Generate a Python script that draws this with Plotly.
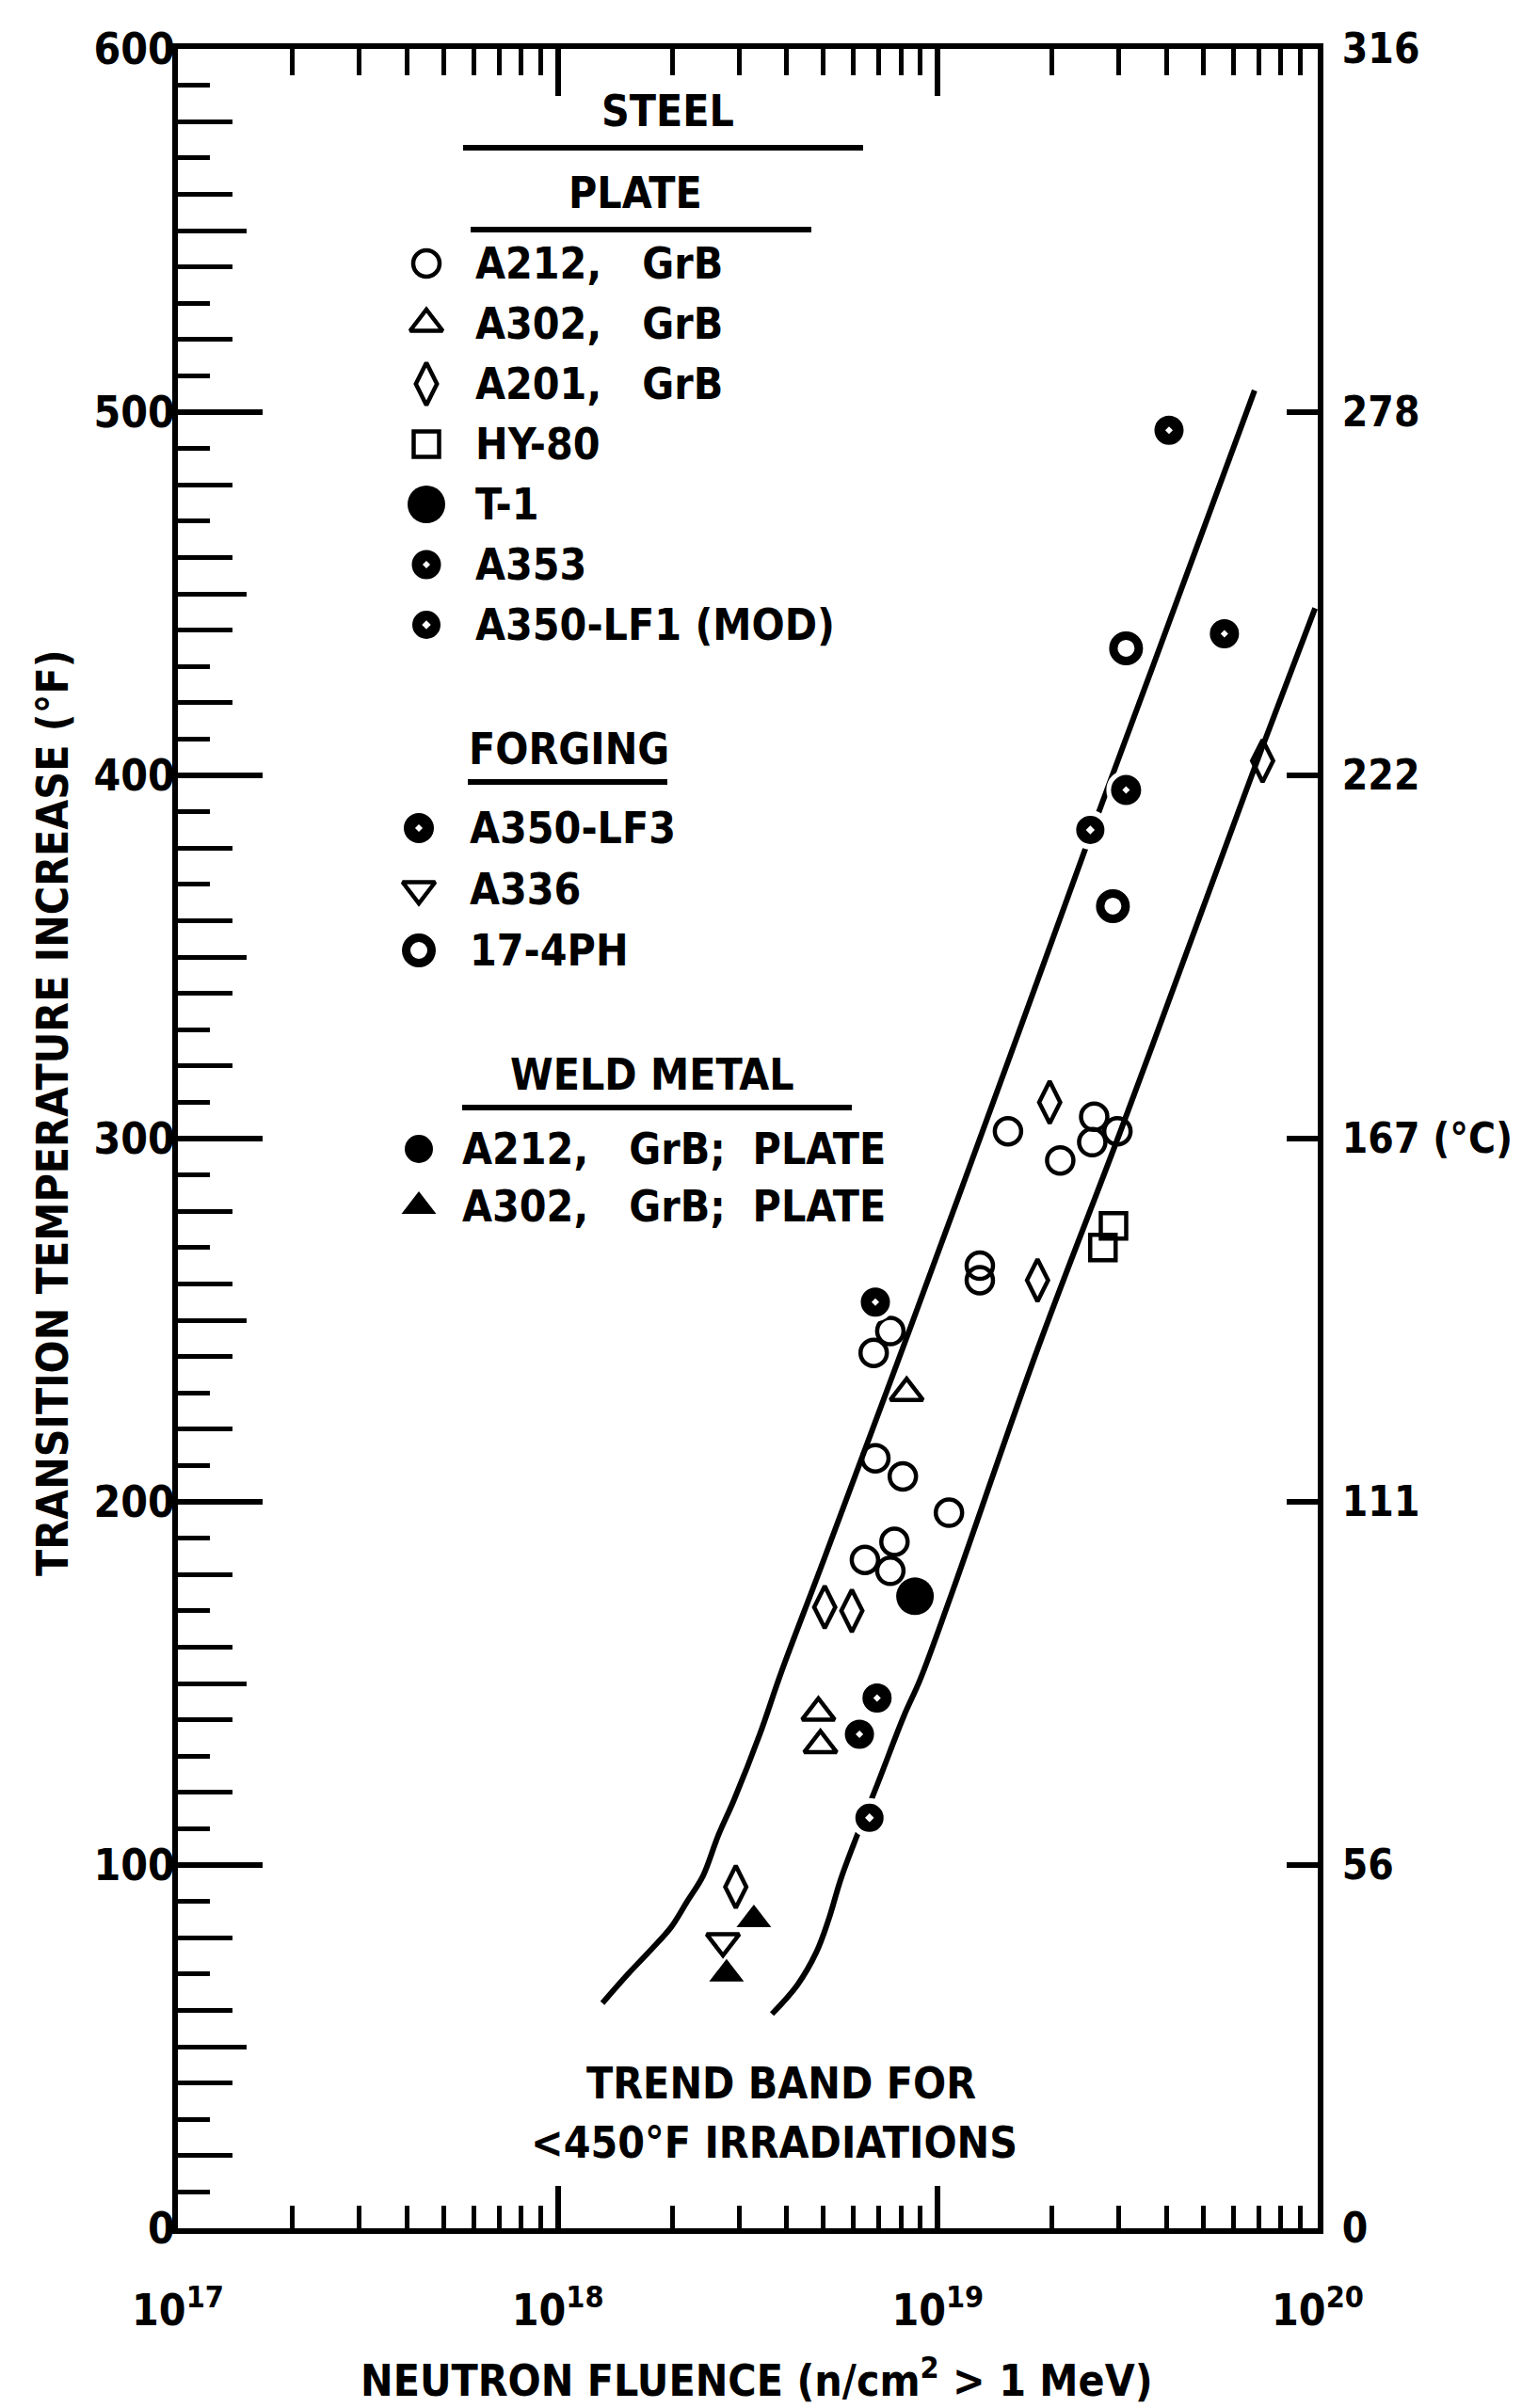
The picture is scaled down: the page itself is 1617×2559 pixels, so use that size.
import plotly.graph_objects as go

# ---------------- data ----------------
# Plate
A212_X = [1.53e19, 2.58e19, 2.97e19, 2.55e19, 2.10e19, 1.29e19, 1.29e19, 7.5e18,
          6.78e18, 6.85e18, 8.09e18, 1.07e19, 7.69e18, 6.43e18, 7.5e18]
A212_Y = [302, 306, 302, 299, 294, 265, 261, 247, 241, 212, 207, 197, 189, 184, 181]
A302_X = [8.28e18, 4.85e18, 4.91e18]
A302_Y = [230, 142, 133]
A201_X = [7.16e19, 1.97e19, 1.83e19, 5.04e18, 5.94e18, 2.94e18]
A201_Y = [404, 310, 261, 171, 170, 94]
HY80_X = [2.90e19, 2.72e19]
HY80_Y = [276, 270]
T1_X = [8.71e18]
T1_Y = [174]
A353_X = [4.06e19, 5.68e19, 6.85e18, 6.92e18, 6.22e18]
A353_Y = [495, 439, 255, 146, 136]
A350LF1_X = [6.61e18, 2.52e19]
A350LF1_Y = [113, 385]
# Forging
A350LF3_X = [3.13e19]
A350LF3_Y = [396]
A336_X = [2.72e18]
A336_Y = [79]
PH17_X = [3.13e19, 2.89e19]
PH17_Y = [435, 364]
# Weld metal
WA302_X = [3.28e18, 2.78e18]
WA302_Y = [85, 70]

# Trend band curves
UPPER_X = [1.31e18, 1.53e18, 1.77e18, 1.99e18, 2.19e18, 2.41e18, 2.64e18, 2.91e18,
           3.40e18, 3.87e18, 5.01e18, 8.47e18, 1.63e19, 2.57e19, 3.68e19, 6.82e19]
UPPER_Y = [62, 70, 77, 83, 90, 97, 108, 118, 136, 153, 184, 248, 329, 386, 430, 506]
LOWER_X = [3.66e18, 4.27e18, 4.79e18, 5.16e18, 5.55e18, 6.02e18, 6.98e18, 8.14e18,
           8.98e18, 1.065e19, 1.83e19, 3.05e19, 5.09e19, 7.10e19, 9.84e19]
LOWER_Y = [59, 67, 76, 85, 96, 106, 123, 141, 151, 172, 242, 303, 366, 407, 446]

# Axis labels
X_TICKS = [1e17, 1e18, 1e19, 1e20]
X_TICKTEXT = ["10<sup>17</sup>", "10<sup>18</sup>", "10<sup>19</sup>", "10<sup>20</sup>"]
Y_TICKS = [0, 100, 200, 300, 400, 500, 600]
Y_TICKTEXT = ["0", "100", "200", "300", "400", "500", "600"]
C_TICKTEXT = ["0", "56", "111", "167 (°C)", "222", "278", "316"]

# ---------------- layout constants ----------------
FIG_W, FIG_H = 1617, 2559
L, R, T, B = 189, 1400, 52, 2368
W, H = R - L, B - T
FONT = "DejaVu Sans Condensed, DejaVu Sans, sans-serif"
FS = 46
INK = "black"


def px(x):
    return (x - L) / W


def py(y):
    return (B - y) / H


STYLES = {
    "A212, GrB": dict(symbol="circle-open", size=28, color=INK, line=dict(width=4.5, color=INK)),
    "A302, GrB": dict(symbol="triangle-up-open", size=30, color=INK, line=dict(width=4.5, color=INK)),
    "A201, GrB": dict(symbol="diamond-tall-open", size=32, color=INK, line=dict(width=4.5, color=INK)),
    "HY-80": dict(symbol="square-open", size=27, color=INK, line=dict(width=4.5, color=INK)),
    "T-1": dict(symbol="circle", size=40, color=INK, line=dict(width=0, color=INK)),
    "A353": dict(symbol="circle-dot", size=36, color=INK, line=dict(width=5, color="white")),
    "A350-LF1 (MOD)": dict(symbol="circle-dot", size=36, color=INK, line=dict(width=6, color="white")),
    "A350-LF3": dict(symbol="circle-dot", size=37, color=INK, line=dict(width=5, color="white")),
    "A336": dict(symbol="triangle-down-open", size=30, color=INK, line=dict(width=4.5, color=INK)),
    "17-4PH": dict(symbol="circle-open", size=27, color=INK, line=dict(width=9, color=INK)),
    "A212, GrB; PLATE": dict(symbol="circle", size=30, color=INK, line=dict(width=0, color=INK)),
    "A302, GrB; PLATE": dict(symbol="triangle-up", size=32, color=INK, line=dict(width=0, color=INK)),
}

SERIES = [
    ("A212, GrB", A212_X, A212_Y),
    ("A302, GrB", A302_X, A302_Y),
    ("A201, GrB", A201_X, A201_Y),
    ("HY-80", HY80_X, HY80_Y),
    ("T-1", T1_X, T1_Y),
    ("A353", A353_X, A353_Y),
    ("A350-LF1 (MOD)", A350LF1_X, A350LF1_Y),
    ("A350-LF3", A350LF3_X, A350LF3_Y),
    ("A336", A336_X, A336_Y),
    ("17-4PH", PH17_X, PH17_Y),
    ("A302, GrB; PLATE", WA302_X, WA302_Y),
]

fig = go.Figure()

# trend band
for xs, ys in [(UPPER_X, UPPER_Y), (LOWER_X, LOWER_Y)]:
    fig.add_trace(go.Scatter(x=xs, y=ys, mode="lines", showlegend=False,
                             line=dict(color=INK, width=6, shape="spline", smoothing=1.0),
                             hoverinfo="skip"))

for name, xs, ys in SERIES:
    fig.add_trace(go.Scatter(x=xs, y=ys, mode="markers", name=name, showlegend=False,
                             marker=STYLES[name], cliponaxis=False))

# empty helper traces so that the frame / extra tick axes get drawn
for xa, ya in [("x2", "y"), ("x", "y2"), ("x", "y4"), ("x", "y5")]:
    fig.add_trace(go.Scatter(x=[None], y=[None], xaxis=xa, yaxis=ya, mode="markers",
                             showlegend=False, hoverinfo="skip"))

# ---------------- hand-made key (pixel layout) ----------------
NB = "\u00a0"
KEY_GROUPS = [
    ("PLATE", 675, 205, 500, 862, 244, 453, 503, 280, 64,
     ["A212, GrB", "A302, GrB", "A201, GrB", "HY-80", "T-1", "A353", "A350-LF1 (MOD)"]),
    ("FORGING", 604, 796, 497, 709, 831, 445, 497, 880, 65,
     ["A350-LF3", "A336", "17-4PH"]),
    ("WELD METAL", 693, 1142, 491, 905, 1177, 445, 489, 1221, 61,
     ["A212, GrB; PLATE", "A302, GrB; PLATE"]),
]

annotations = []
shapes = []


def text_ann(s, x, y, xanchor="center", size=FS, angle=0):
    return dict(text=s, x=px(x), y=py(y), xref="paper", yref="paper", showarrow=False,
                xanchor=xanchor, yanchor="middle", textangle=angle,
                font=dict(family=FONT, size=size, color=INK, weight="bold"))


def uline(x0, x1, y):
    return dict(type="line", xref="paper", yref="paper", x0=px(x0), x1=px(x1),
                y0=py(y), y1=py(y), line=dict(color=INK, width=6))


annotations.append(text_ann("STEEL", 709, 118))
shapes.append(uline(492, 917, 157))

for head, hx, hy, ux0, ux1, uy, sx, tx, y0, dy, items in KEY_GROUPS:
    annotations.append(text_ann(head, hx, hy))
    shapes.append(uline(ux0, ux1, uy))
    for i, name in enumerate(items):
        yy = y0 + i * dy
        fig.add_trace(go.Scatter(x=[px(sx)], y=[py(yy)], xaxis="x3", yaxis="y3",
                                 mode="markers", marker=STYLES[name], showlegend=False,
                                 hoverinfo="skip", cliponaxis=False))
        label = name.replace(", ", "," + NB + NB + " ").replace("; ", ";" + NB + " ")
        annotations.append(text_ann(label, tx, yy, xanchor="left"))

annotations.append(text_ann("TREND BAND FOR", 830, 2214))
annotations.append(text_ann("&lt;450°F IRRADIATIONS", 822, 2277))
annotations.append(text_ann("NEUTRON FLUENCE (n/cm<sup>2</sup> &gt; 1 MeV)", 804, 2527))
annotations.append(text_ann("TRANSITION TEMPERATURE INCREASE (°F)", 56, 1183, angle=-90))

# ---------------- axes ----------------
minor_x = [float(m) * 10.0 ** e for e in (17, 18, 19) for m in range(2, 10)]
ax_common = dict(showgrid=False, zeroline=False, showline=True, linecolor=INK, linewidth=6)
hidden_ticks = dict(showline=False, showgrid=False, zeroline=False, showticklabels=False)

fig.update_layout(
    width=FIG_W, height=FIG_H,
    margin=dict(l=L, r=FIG_W - R, t=T, b=FIG_H - B, autoexpand=False),
    paper_bgcolor="white", plot_bgcolor="white",
    showlegend=False,
    font=dict(family=FONT, size=FS, color=INK, weight="bold"),
    xaxis=dict(type="log", range=[17, 20], ticks="inside", ticklen=45, tickwidth=6,
               tickcolor=INK, tickvals=X_TICKS, ticktext=X_TICKTEXT,
               tickfont=dict(family=FONT, size=FS, color=INK, weight="bold"),
               ticklabelstandoff=42,
               minor=dict(tickvals=minor_x, ticks="inside", ticklen=24, tickwidth=5, tickcolor=INK),
               **ax_common),
    xaxis2=dict(type="log", range=[17, 20], overlaying="x", side="top", anchor="y",
                ticks="inside", ticklen=50, tickwidth=6, tickcolor=INK, tickvals=X_TICKS,
                showticklabels=False,
                minor=dict(tickvals=minor_x, ticks="inside", ticklen=28, tickwidth=5, tickcolor=INK),
                **ax_common),
    yaxis=dict(range=[0, 600], ticks="inside", ticklen=90, tickwidth=6, tickcolor=INK,
               tickvals=Y_TICKS, ticktext=Y_TICKTEXT,
               tickfont=dict(family=FONT, size=FS, color=INK, weight="bold"),
               ticklabelstandoff=-12,
               minor=dict(dtick=10, ticks="inside", ticklen=34, tickwidth=5, tickcolor=INK),
               **ax_common),
    yaxis2=dict(range=[0, 600], overlaying="y", side="right", anchor="x",
                ticks="inside", ticklen=33, tickwidth=6, tickcolor=INK,
                tickvals=Y_TICKS, ticktext=C_TICKTEXT,
                tickfont=dict(family=FONT, size=44, color=INK, weight="bold"),
                ticklabelstandoff=11,
                **ax_common),
    yaxis4=dict(range=[0, 600], overlaying="y", side="left", anchor="x",
                ticks="inside", ticklen=58, tickwidth=5, tickcolor=INK,
                tickvals=[v for v in range(20, 600, 20) if v % 100 != 0], **hidden_ticks),
    yaxis5=dict(range=[0, 600], overlaying="y", side="left", anchor="x",
                ticks="inside", ticklen=73, tickwidth=5, tickcolor=INK,
                tickvals=list(range(50, 600, 100)), **hidden_ticks),
    xaxis3=dict(range=[0, 1], overlaying="x", anchor="y3", visible=False, showticklabels=False,
                fixedrange=True),
    yaxis3=dict(range=[0, 1], overlaying="y", anchor="x3", visible=False, showticklabels=False,
                fixedrange=True),
    annotations=annotations,
    shapes=shapes,
)

fig.write_html("out.html")
